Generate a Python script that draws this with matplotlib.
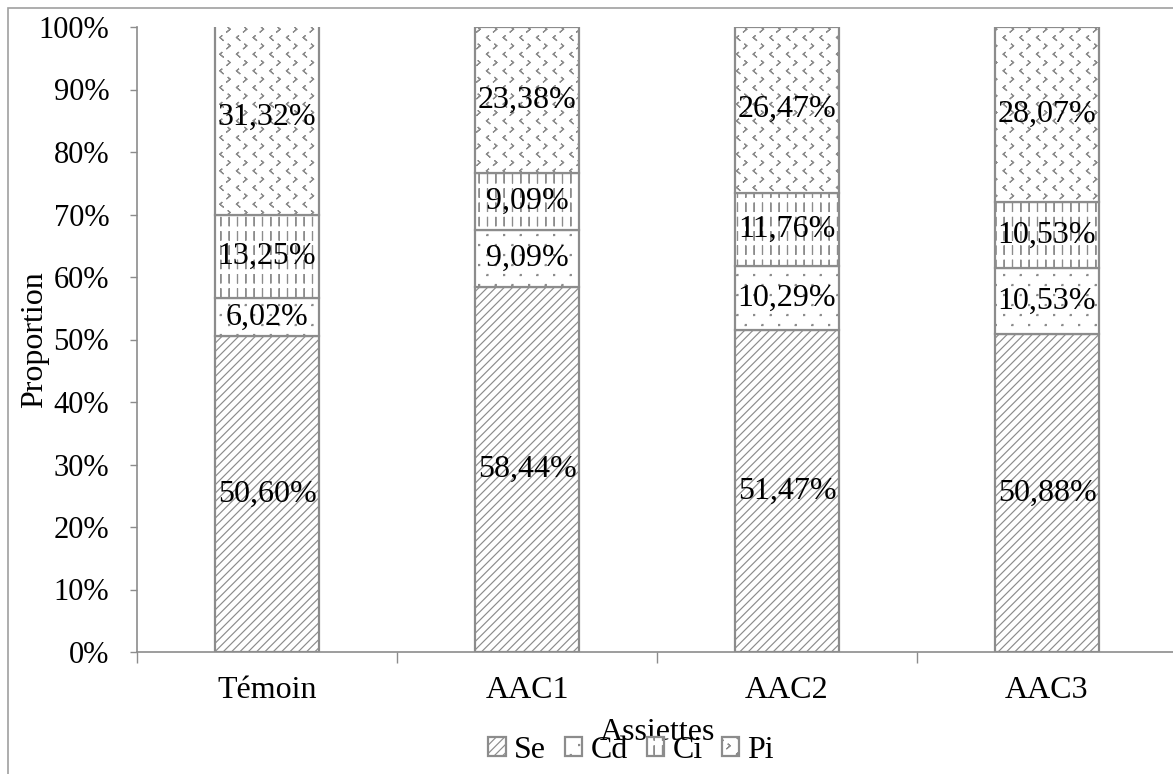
import warnings
import matplotlib
matplotlib.use("Agg")
import matplotlib.pyplot as plt
from matplotlib import hatch as mhatch
from matplotlib.path import Path
from matplotlib.patches import Rectangle
import numpy as np

warnings.filterwarnings("ignore")

plt.rcParams['font.family'] = ['Liberation Serif', 'DejaVu Serif']
plt.rcParams['hatch.color'] = '#8c8c8c'
plt.rcParams['hatch.linewidth'] = 0.85

categories = ["Témoin", "AAC1", "AAC2", "AAC3"]
series_names = ["Se", "Cd", "Ci", "Pi"]
se = [50.60, 58.44, 51.47, 50.88]
cd = [6.02, 9.09, 10.29, 10.53]
ci = [13.25, 9.09, 11.76, 10.53]
pi = [31.32, 23.38, 26.47, 28.07]
yticks = [0, 10, 20, 30, 40, 50, 60, 70, 80, 90, 100]


# --- small hatch motifs (drawn inside one unit hatch cell) -----------------
class _MarkHatch(mhatch.HatchPatternBase):
    char = None

    def __init__(self, hatch, density):
        self.marks = self.build() if (hatch and self.char in hatch) else []
        self.num_vertices = sum(len(m) for m in self.marks)

    def build(self):
        return []

    def set_vertices_and_codes(self, vertices, codes):
        i = 0
        for m in self.marks:
            n = len(m)
            vertices[i:i + n] = m
            codes[i] = Path.MOVETO
            codes[i + 1:i + n] = Path.LINETO
            i += n


class TinyDots(_MarkHatch):
    char = 'd'

    def build(self):
        marks = []
        ncols, nrows, s = 6, 10, 0.005
        for r in range(nrows):
            y = (r + 0.5) / nrows
            off = 0.0 if r % 2 == 0 else 0.5 / ncols
            for c in range(ncols):
                x = (c + 0.25) / ncols + off
                marks.append(np.array([[x - s, y - s], [x + s, y - s],
                                       [x + s, y + s], [x - s, y + s],
                                       [x - s, y - s]]))
        return marks


class VDashes(_MarkHatch):
    char = 'v'

    def build(self):
        marks = []
        ncols, nrows, dash = 12, 7, 0.065
        for r in range(nrows):
            y0 = (r + 0.2) / nrows
            for c in range(ncols):
                x = (c + 0.5) / ncols
                marks.append(np.array([[x, y0], [x, y0 + dash], [x, y0]]))
        return marks


class Chevrons(_MarkHatch):
    char = 'c'

    def build(self):
        marks = []
        ncols, nrows, w, h = 6, 12, 0.010, 0.017
        for r in range(nrows):
            y = (r + 0.5) / nrows
            right = (r % 2 == 0)
            off = 0.5 / ncols if right else 0.0
            for c in range(ncols):
                x = (c + 0.25) / ncols + off
                if right:
                    pts = [[x - w, y + h], [x + w, y], [x - w, y - h]]
                else:
                    pts = [[x + w, y + h], [x - w, y], [x + w, y - h]]
                marks.append(np.array(pts + pts[-2::-1]))
        return marks


mhatch._hatch_types.extend([TinyDots, VDashes, Chevrons])

series = [se, cd, ci, pi]
hatches = ['////', 'd', 'v', 'c']
edge = '#8c8c8c'

fig = plt.figure(figsize=(11.73, 7.74), dpi=100)
W, H = 1173, 774
ax = fig.add_axes([137 / W, 1 - 652 / H, 1040 / W, 625 / H])

x = np.arange(len(categories))
bottom = np.zeros(len(categories))
handles = []
for name, vals, h in zip(series_names, series, hatches):
    vals = np.array(vals) / 100.0
    bars = ax.bar(x, vals, width=0.4, bottom=bottom, color='white',
                  edgecolor=edge, hatch=h, linewidth=1.6, label=name)
    handles.append(bars)
    for xi, b, v in zip(x, bottom, vals):
        txt = f"{v * 100:.2f}%".replace('.', ',')
        ax.text(xi, b + v / 2, txt, ha='center', va='center', fontsize=23,
                color='black', clip_on=False)
    bottom = bottom + vals

ax.set_ylim(0, 1)
ax.set_xlim(-0.5, 3.5)
ax.set_yticks(np.array(yticks) / 100.0)
ax.set_yticklabels([f"{t}%" for t in yticks], fontsize=22)
ax.set_xticks(x)
ax.set_xticklabels(categories, fontsize=23)
ax.tick_params(axis='x', which='major', length=0, pad=17)
ax.set_xticks(np.arange(-0.5, 3.6, 1.0), minor=True)
ax.tick_params(axis='x', which='minor', length=8, color=edge, width=1)
ax.tick_params(axis='y', length=5, color=edge, width=1, pad=15)

for s in ['top', 'right']:
    ax.spines[s].set_visible(False)
for s in ['left', 'bottom']:
    ax.spines[s].set_color(edge)
    ax.spines[s].set_linewidth(1.2)

fig.text(35 / W, 1 - 340 / H, "Proportion", rotation=90, ha='center',
         va='center', fontsize=23)
fig.text(657 / W, 1 - 733 / H, "Assiettes", ha='center', va='center',
         fontsize=23)

leg = fig.legend(handles=handles, labels=series_names, loc='center',
                 bbox_to_anchor=(631 / W, 1 - 750 / H), ncol=4, frameon=False,
                 fontsize=23, handlelength=0.55, handleheight=0.55,
                 handletextpad=0.25, columnspacing=0.6, borderpad=0)

fig.patches.append(Rectangle((8 / W, -0.05), 1.2, 1 - 8 / H + 0.05,
                             transform=fig.transFigure, fill=False,
                             edgecolor='#a0a0a0', linewidth=1.2, zorder=-1))

fig.savefig("out.png", dpi=100)
